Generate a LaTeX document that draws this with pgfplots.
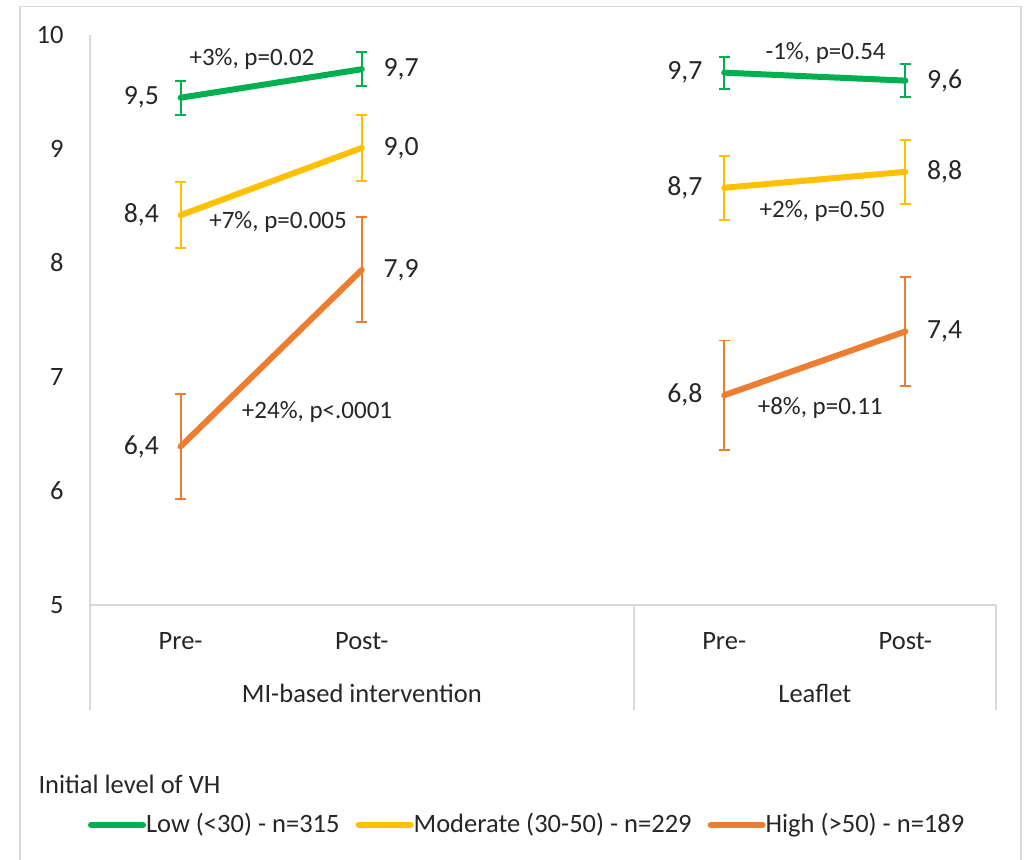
\documentclass[border=0pt]{standalone}
\usepackage{pgfplots}
\pgfplotsset{compat=1.18}
\usepackage{pgfplotstable}
\usepackage{fontspec}
\setmainfont{Carlito}
\definecolor{cLow}{HTML}{00B050}
\definecolor{cMod}{HTML}{FFC000}
\definecolor{cHigh}{HTML}{ED7D31}
\definecolor{axgray}{HTML}{D9D9D9}
\definecolor{txt}{HTML}{262626}

\pgfplotstableread{
x y e
1 9.45 0.15
2 9.70 0.15
3 nan 0
4 9.67 0.14
5 9.60 0.145
}\lowdata
\pgfplotstableread{
x y e
1 8.42 0.29
2 9.01 0.29
3 nan 0
4 8.66 0.28
5 8.80 0.28
}\moddata
\pgfplotstableread{
x y e
1 6.39 0.46
2 7.94 0.46
3 nan 0
4 6.84 0.48
5 7.40 0.48
}\highdata
\pgfplotstableread{
x y lab
1 9.45 9,5
1 8.42 8,4
1 6.39 6,4
4 9.67 9,7
4 8.66 8,7
4 6.84 6,8
}\prelab
\pgfplotstableread{
x y lab
2 9.70 9,7
2 9.01 9,0
2 7.94 7,9
5 9.60 9,6
5 8.80 8,8
5 7.40 7,4
}\postlab

\begin{document}
\begin{tikzpicture}[font=\fontsize{10.6}{12.7}\selectfont, text=txt]
\path[use as bounding box] (0,0) rectangle (410pt,-343.6pt);
\draw[axgray, line width=0.6pt] (8pt,-2.6pt) rectangle (408.4pt,-360pt);
\begin{axis}[
  at={(36pt,-242pt)}, anchor=south west,
  scale only axis, width=362.4pt, height=228pt,
  xmin=0.5, xmax=5.5, ymin=5, ymax=10,
  axis x line=bottom, axis y line=left,
  axis line style={draw=axgray, line width=0.8pt, -},
  major tick length=0pt,
  xtick={1,2,4,5}, xticklabels={Pre-,Post-,Pre-,Post-},
  ytick={5,6,7,8,9,10},
  xticklabel style={anchor=base, yshift=-17.6pt, inner sep=0pt, text=txt},
  yticklabel style={anchor=east, xshift=-10.4pt, inner sep=0pt, text=txt},
  /pgf/number format/assume math mode=true,
  clip=false,
  unbounded coords=jump,
  legend columns=3,
  legend style={at={(axis description cs:-0.0022,-0.386)}, anchor=west,
    draw=none, fill=none, inner sep=0pt, outer sep=0pt,
    font=\fontsize{10.6}{12.7}\selectfont, text=txt,
    column sep=0pt,
    /tikz/every odd column/.append style={column sep=0pt},
    /tikz/every even column/.append style={column sep=6.4pt},
    nodes={inner sep=0pt}},
  legend image code/.code={\draw[#1, line width=2.4pt, line cap=round] (0pt,0pt) -- (20.8pt,0pt);},
]
\addplot[cLow, line width=2.4pt, line cap=round, line join=round,
  error bars/.cd, y dir=both, y explicit,
  error bar style={cLow, line width=0.75pt, line cap=butt},
  error mark options={cLow, line width=0.75pt, mark size=2.2pt, rotate=90}]
  table[x=x, y=y, y error=e] {\lowdata};
\addlegendentry{Low (<30) - n=315}
\addplot[cMod, line width=2.4pt, line cap=round, line join=round,
  error bars/.cd, y dir=both, y explicit,
  error bar style={cMod, line width=0.75pt, line cap=butt},
  error mark options={cMod, line width=0.75pt, mark size=2.2pt, rotate=90}]
  table[x=x, y=y, y error=e] {\moddata};
\addlegendentry{Moderate (30-50) - n=229}
\addplot[cHigh, line width=2.4pt, line cap=round, line join=round,
  error bars/.cd, y dir=both, y explicit,
  error bar style={cHigh, line width=0.75pt, line cap=butt},
  error mark options={cHigh, line width=0.75pt, mark size=2.2pt, rotate=90}]
  table[x=x, y=y, y error=e] {\highdata};
\addlegendentry{High (>50) - n=189}

\addplot[draw=none, forget plot, nodes near coords, point meta=explicit symbolic,
  every node near coord/.append style={anchor=east, xshift=-8.5pt, yshift=0pt, inner sep=0pt, text=txt, font=\fontsize{11.1}{13}\selectfont}]
  table[x=x, y=y, meta=lab] {\prelab};
\addplot[draw=none, forget plot, nodes near coords, point meta=explicit symbolic,
  every node near coord/.append style={anchor=west, xshift=8.5pt, yshift=0pt, inner sep=0pt, text=txt, font=\fontsize{11.1}{13}\selectfont}]
  table[x=x, y=y, meta=lab] {\postlab};

\draw[axgray, line width=0.8pt] (axis cs:0.5,5) -- ++(0pt,-42pt);
\draw[axgray, line width=0.8pt] (axis cs:3.5,5) -- ++(0pt,-42pt);
\draw[axgray, line width=0.8pt] (axis cs:5.5,5) -- ++(0pt,-42pt);
\node[anchor=base, yshift=-38.8pt, inner sep=0pt] at (axis cs:2,5) {MI-based intervention};
\node[anchor=base, yshift=-38.8pt, inner sep=0pt] at (axis cs:4.5,5) {Leaflet};

\node[font=\fontsize{10}{12}\selectfont] at (axis cs:1.394,9.79) {+3\%, p=0.02};
\node[font=\fontsize{10}{12}\selectfont] at (axis cs:1.538,8.36) {+7\%, p=0.005};
\node[font=\fontsize{10}{12}\selectfont] at (axis cs:1.753,6.69) {+24\%, p<.0001};
\node[font=\fontsize{10}{12}\selectfont] at (axis cs:4.56,9.84) {-1\%, p=0.54};
\node[font=\fontsize{10}{12}\selectfont] at (axis cs:4.54,8.46) {+2\%, p=0.50};
\node[font=\fontsize{10}{12}\selectfont] at (axis cs:4.53,6.73) {+8\%, p=0.11};
\end{axis}
\node[anchor=west, inner sep=0pt] at (15.2pt,-313.6pt) {Initial level of VH};
\end{tikzpicture}
\end{document}
